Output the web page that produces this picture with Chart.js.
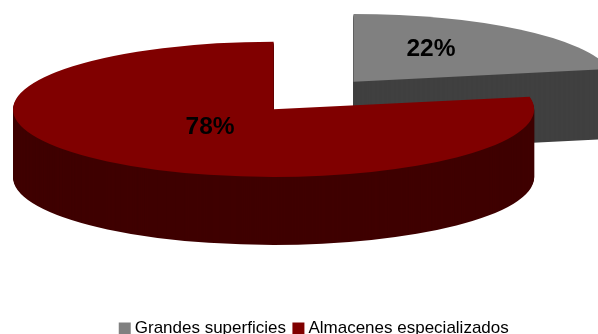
<!DOCTYPE html>
<html>
<head>
<meta charset="utf-8">
<style>
  html, body { margin: 0; padding: 0; background: #fff; }
  canvas { display: block; }
</style>
<script src="https://cdn.jsdelivr.net/npm/chart.js@4"></script>
</head>
<body>
<canvas id="myChart" width="598" height="334"></canvas>
<script>
const categories = ["Grandes superficies", "Almacenes especializados"];
const shares = [22, 78];
const topColors = ["#808080", "#800000"];
const sideColors = ["#404040", "#3f0000"];

// fake 3D: every wedge is squashed into an ellipse and stacked
const radiusX = 260.6;
const radiusY = 67.6;
const depths = [70, 68];
const centers = [
  { x: 353.5, y: 81.7 },
  { x: 273.6, y: 109.3 },
];
const labelShift = [
  { x: 77.5, y: -32 },
  { x: -63.5, y: 18 },
];

function drawWedge(ctx, arc, i, drop, color) {
  const options = arc.options;
  arc.options = Object.assign({}, options, { backgroundColor: color });
  ctx.save();
  ctx.translate(centers[i].x, centers[i].y + drop);
  ctx.scale(radiusX / arc.outerRadius, radiusY / arc.outerRadius);
  ctx.translate(-arc.x, -arc.y);
  arc.draw(ctx);
  ctx.restore();
  arc.options = options;
}

const pie3d = {
  id: "pie3d",
  afterLayout(chart) {
    // legend sits low and right of centre, descenders run off the page
    chart.legend.top += 13;
    chart.legend.bottom += 13;
    chart.legend.left += 17;
    chart.legend.right += 17;
  },
  beforeDatasetsDraw(chart) {
    const ctx = chart.ctx;
    const arcs = chart.getDatasetMeta(0).data;
    arcs.forEach((arc, i) => {
      for (let drop = depths[i]; drop > 0; drop--) {
        drawWedge(ctx, arc, i, drop, sideColors[i]);
      }
      drawWedge(ctx, arc, i, 0, topColors[i]);
    });
    ctx.save();
    ctx.fillStyle = "#000";
    ctx.font = "bold 24.5px 'Liberation Sans'";
    ctx.textAlign = "center";
    ctx.textBaseline = "middle";
    shares.forEach((share, i) => {
      ctx.fillText(share + "%", centers[i].x + labelShift[i].x, centers[i].y + labelShift[i].y);
    });
    ctx.restore();
    return false; // wedges are already drawn
  },
};

new Chart(document.getElementById("myChart"), {
  type: "pie",
  data: {
    labels: categories,
    datasets: [
      {
        data: shares,
        backgroundColor: topColors,
        borderWidth: 0,
      },
    ],
  },
  options: {
    responsive: false,
    animation: false,
    plugins: {
      tooltip: { enabled: false },
      legend: {
        position: "bottom",
        labels: {
          color: "#000",
          font: { family: "'Liberation Sans'", size: 17 },
          usePointStyle: true,
          pointStyle: "rect",
          boxWidth: 3,
          boxHeight: 12,
          padding: 11,
        },
      },
    },
  },
  plugins: [pie3d],
});
</script>
</body>
</html>
